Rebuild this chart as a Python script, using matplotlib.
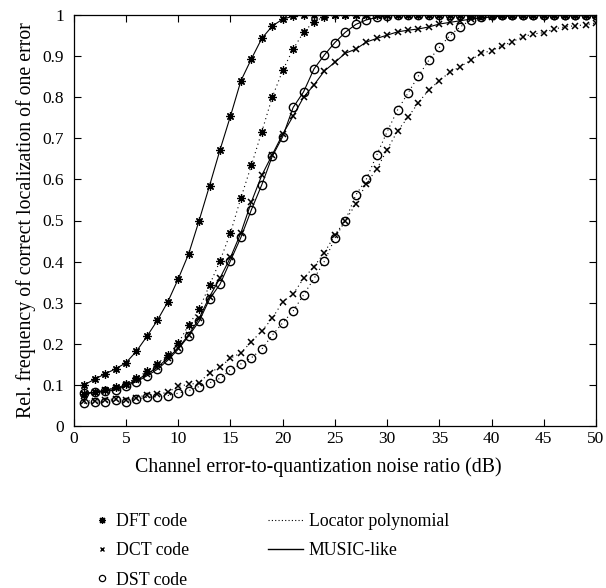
import matplotlib
matplotlib.use("Agg")
import matplotlib.pyplot as plt
from matplotlib.lines import Line2D
import numpy as np

snr = np.arange(1, 51)

dft_music = [0.10, 0.114, 0.127, 0.139, 0.154, 0.182, 0.218, 0.257, 0.302, 0.358,
             0.419, 0.50, 0.585, 0.672, 0.754, 0.84, 0.893, 0.943, 0.973, 0.99,
             0.997] + [1.0] * 29
dft_loc = [0.078, 0.082, 0.088, 0.094, 0.103, 0.117, 0.133, 0.152, 0.173, 0.201,
           0.246, 0.284, 0.343, 0.402, 0.47, 0.555, 0.634, 0.716, 0.80, 0.865,
           0.917, 0.958, 0.984, 0.996] + [1.0] * 26
dct_music = [0.078, 0.082, 0.087, 0.092, 0.100, 0.112, 0.126, 0.143, 0.165, 0.190,
             0.222, 0.262, 0.315, 0.36, 0.41, 0.47, 0.545, 0.61, 0.66, 0.71,
             0.754, 0.80, 0.83, 0.864, 0.885, 0.907, 0.917, 0.934, 0.943, 0.951,
             0.959, 0.963, 0.966, 0.971, 0.978, 0.982, 0.986, 0.99, 0.993, 0.995,
             0.997, 0.998, 0.999, 1.0, 1.0, 1.0, 1.0, 1.0, 1.0, 1.0]
dct_loc = [0.060, 0.062, 0.064, 0.066, 0.064, 0.069, 0.076, 0.077, 0.082, 0.097,
           0.101, 0.105, 0.13, 0.143, 0.165, 0.178, 0.205, 0.231, 0.262, 0.302,
           0.321, 0.359, 0.388, 0.422, 0.465, 0.50, 0.54, 0.59, 0.625, 0.672,
           0.718, 0.751, 0.787, 0.818, 0.84, 0.861, 0.874, 0.89, 0.907, 0.913,
           0.925, 0.935, 0.947, 0.954, 0.957, 0.966, 0.971, 0.974, 0.976, 0.981]
dst_music = [0.080, 0.082, 0.084, 0.088, 0.097, 0.108, 0.122, 0.138, 0.160, 0.187,
             0.219, 0.255, 0.309, 0.345, 0.402, 0.459, 0.526, 0.587, 0.656, 0.704,
             0.775, 0.813, 0.869, 0.903, 0.933, 0.958, 0.977, 0.988, 0.994, 0.998] + [1.0] * 20
dst_loc = [0.055, 0.058, 0.059, 0.063, 0.059, 0.065, 0.070, 0.071, 0.074, 0.080,
           0.086, 0.096, 0.105, 0.116, 0.136, 0.151, 0.166, 0.187, 0.221, 0.251,
           0.28, 0.319, 0.359, 0.401, 0.457, 0.50, 0.562, 0.60, 0.659, 0.716,
           0.769, 0.81, 0.852, 0.89, 0.921, 0.95, 0.971, 0.988, 0.995] + [1.0] * 11

plt.rcParams["font.family"] = "Liberation Serif"
plt.rcParams["font.size"] = 12

ASTER = (8, 2, 0)   # matlab-style asterisk
DOT = (0, (1, 3))

fig = plt.figure(figsize=(6.06, 5.88), dpi=100)
ax = fig.add_axes([0.1218, 0.2755, 0.8617, 0.699])

common = dict(color="black", lw=0.8)
ax.plot(snr, dft_loc, ls=DOT, marker=ASTER, ms=6, mew=0.9, **common)
ax.plot(snr, dct_loc, ls=DOT, marker="x", ms=4, mew=1.1, **common)
ax.plot(snr, dst_loc, ls=DOT, marker="o", ms=6, mew=1.0, mfc="none", **common)
ax.plot(snr, dft_music, ls="-", marker=ASTER, ms=6, mew=0.9, **common)
ax.plot(snr, dct_music, ls="-", marker="x", ms=4, mew=1.1, **common)
ax.plot(snr, dst_music, ls="-", marker="o", ms=6, mew=1.0, mfc="none", **common)

ax.set_xlim(0, 50)
ax.set_ylim(0, 1)
ax.set_xticks(np.arange(0, 51, 5))
ax.set_yticks(np.arange(0, 1.01, 0.1))
ax.set_yticklabels(["0", "0.1", "0.2", "0.3", "0.4", "0.5", "0.6", "0.7", "0.8", "0.9", "1"])
ax.tick_params(direction="in", top=True, right=True, length=5, width=0.8, labelsize=12.5)
ax.tick_params(axis="y", pad=7)
for s in ax.spines.values():
    s.set_linewidth(0.9)

ax.set_xlabel("Channel error-to-quantization noise ratio (dB)", fontsize=14.3, labelpad=9)
ax.xaxis.set_label_coords(0.468, -0.075)
ax.set_ylabel("Rel. frequency of correct localization of one error", fontsize=14.3, labelpad=5)

left_handles = [
    Line2D([], [], ls="none", marker=ASTER, ms=5, mew=0.9, color="black", label="DFT code"),
    Line2D([], [], ls="none", marker="x", ms=3.5, mew=1.0, color="black", label="DCT code"),
    Line2D([], [], ls="none", marker="o", ms=4.5, mew=0.9, mfc="none", color="black", label="DST code"),
]
right_handles = [
    Line2D([], [], ls=(0, (1, 2)), lw=0.8, color="black", label="Locator polynomial"),
    Line2D([], [], ls="-", lw=1.0, color="black", label="MUSIC-like"),
]
fig.legend(handles=left_handles, loc="upper left", bbox_to_anchor=(0.158, 0.127),
           frameon=False, fontsize=12.8, handlelength=0.7, handletextpad=0.45,
           labelspacing=0.68, borderpad=0, borderaxespad=0)
fig.legend(handles=right_handles, loc="upper left", bbox_to_anchor=(0.442, 0.127),
           frameon=False, fontsize=12.8, handlelength=2.0, handletextpad=0.3,
           labelspacing=0.68, borderpad=0, borderaxespad=0)

fig.savefig("out.png", dpi=100, facecolor="white")
